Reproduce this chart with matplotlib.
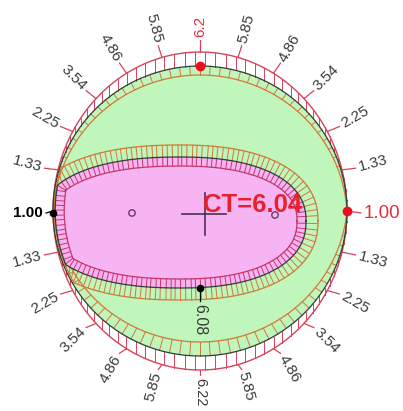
import numpy as np
import matplotlib
matplotlib.use("Agg")
import matplotlib.pyplot as plt
from matplotlib.patches import Polygon, Circle

# ---------------- data ----------------
ring_labels = ["1.00", "1.33", "2.25", "3.54", "4.86", "5.85", "6.2",
               "5.85", "4.86", "3.54", "2.25", "1.33", "1.00",
               "1.33", "2.25", "3.54", "4.86", "5.85", "6.22",
               "5.85", "4.86", "3.54", "2.25", "1.33"]
ct_value = 6.04
inner_value = 6.08

# ---------------- style / geometry ----------------
W, H = 403, 411
CX, CY = 200.0, 211.0
RX, RY_DARK, RY_RED = 147.0, 145.0, 159.0
GREEN = "#c0f5bc"
PINK = "#f6b4f2"
RED = "#d8425a"
ORANGE = "#cf7a3a"
DARK = "#2d4038"
MAG = "#c8356a"
TXT = "#3a3a3a"

plt.rcParams["font.family"] = ["Liberation Sans", "DejaVu Sans"]
fig = plt.figure(figsize=(W / 100, H / 100), dpi=100)
ax = fig.add_axes([0, 0, 1, 1])
ax.set_xlim(0, W)
ax.set_ylim(H, 0)
ax.axis("off")

def ell(th, ry, rx=RX, cy=CY):
    return CX + rx * np.cos(th), cy - ry * np.sin(th)

# ---- outer region ----
th = np.linspace(0, 2 * np.pi, 721)
dx_, dy_ = ell(th, RY_DARK)
ax.fill(dx_, dy_, color=GREEN, zorder=1, lw=0)
rx_, ry_ = ell(th, RY_RED)
ax.plot(rx_, ry_, color=RED, lw=1.0, zorder=3)
ax.plot(dx_, dy_, color=DARK, lw=0.9, zorder=4)

def orange_w(t):
    s = np.sin(t)
    return np.abs(s) * np.where(s > 0, 9.0, 14.0)

ox = dx_ - np.cos(th) * orange_w(th)
oy = dy_ + np.sin(th) * orange_w(th)
ax.plot(ox, oy, color=ORANGE, lw=0.9, zorder=3)

for deg in np.arange(0, 360, 4.0):
    t = np.radians(deg)
    x0, y0 = ell(t, RY_DARK)
    x1, y1 = ell(t, RY_RED)
    ax.plot([x0, x1], [y0, y1], color=RED, lw=0.7, zorder=3)
for deg in np.arange(2, 360, 4.0):
    t = np.radians(deg)
    x0, y0 = ell(t, RY_DARK)
    w = orange_w(t)
    ax.plot([x0, x0 - np.cos(t) * w], [y0, y0 + np.sin(t) * w],
            color=ORANGE, lw=0.7, zorder=3)

# ---- inner shape ----
N = 900
t = np.linspace(0, 2 * np.pi, N, endpoint=False)
c, s = np.cos(t), np.sin(t)
p = 2.3
a = np.where(c >= 0, 126.0, 140.0)
b = np.where(s >= 0, 64.0, 67.0)
icx, icy = 180.0, 221.0
x = icx + a * np.sign(c) * np.abs(c) ** (2 / p)
y = icy - b * np.sign(s) * np.abs(s) ** (2 / p)

def project(x, y, lim=0.985):
    r = np.hypot((x - CX) / RX, (y - CY) / RY_DARK)
    f = np.where(r > lim, lim / r, 1.0)
    return CX + (x - CX) * f, CY + (y - CY) * f

x, y = project(x, y)
tx = np.roll(x, -3) - np.roll(x, 3)
ty = np.roll(y, -3) - np.roll(y, 3)
nx, ny = -ty, tx
k = np.ones(15) / 15
nx = np.convolve(np.concatenate([nx[-7:], nx, nx[:7]]), k, mode="valid")
ny = np.convolve(np.concatenate([ny[-7:], ny, ny[:7]]), k, mode="valid")
nn = np.hypot(nx, ny)
nx, ny = nx / nn, ny / nn

outx, outy = project(x + nx * 12, y + ny * 12, lim=0.99)
inx, iny = x - nx * 9, y - ny * 9

ax.add_patch(Polygon(np.c_[x, y], closed=True, fc=PINK, ec="none", zorder=5))
ax.plot(np.r_[outx, outx[0]], np.r_[outy, outy[0]], color=ORANGE, lw=0.9, zorder=6)
ax.plot(np.r_[inx, inx[0]], np.r_[iny, iny[0]], color=MAG, lw=0.9, zorder=6)
ax.plot(np.r_[x, x[0]], np.r_[y, y[0]], color=DARK, lw=0.9, zorder=7)

seg = np.hypot(np.diff(np.r_[x, x[0]]), np.diff(np.r_[y, y[0]]))
arc = np.r_[0, np.cumsum(seg)[:-1]]
idx = np.where(np.diff(np.floor(arc / 5.0)) > 0)[0]
for i in idx:
    ax.plot([x[i], outx[i]], [y[i], outy[i]], color=ORANGE, lw=0.7, zorder=6)
    ax.plot([inx[i], x[i]], [iny[i], y[i]], color=MAG, lw=0.7, zorder=6)

# ---- ring labels and ticks ----
LCY = 213.0
for i, lab in enumerate(ring_labels):
    deg = 15 * i
    tt = np.radians(deg)
    ux, uy = np.cos(tt), -np.sin(tt)
    x0, y0 = ell(tt, RY_RED)
    if i in (0, 12):
        x0, y0 = ell(tt, RY_DARK)
    lry = 176.0 if np.sin(tt) > 1e-9 else 165.0
    lrx = 157.0 if i == 12 else 164.0
    axx = CX + lrx * np.cos(tt)
    ayy = LCY - lry * np.sin(tt)
    ax.plot([x0, axx - ux * 3], [y0, ayy - uy * 3],
            color=RED if i != 12 else "black", lw=0.9, zorder=8)
    color, size, weight = TXT, 11, "normal"
    if i == 0 or i == 6:
        color = "#e0303c"
    if i == 0:
        size = 13.5
    if i == 12:
        color, size, weight = "black", 11, "bold"
    if i == 18:
        size = 10.5
    if np.cos(tt) >= -1e-9:
        rot, ha = deg if deg <= 90 else deg - 360, "left"
    else:
        rot, ha = deg - 180, "right"
    ax.text(axx, ayy, lab, rotation=rot, rotation_mode="anchor", ha=ha,
            va="center", color=color, fontsize=size, fontweight=weight, zorder=9)

# markers
ax.plot([CX], [ell(np.pi / 2, RY_DARK)[1]], "o", color="#e8101c", ms=6, zorder=10)
ax.plot([ell(0, RY_DARK)[0]], [CY], "o", color="#e8101c", ms=6, zorder=10)
ax.plot([ell(np.pi, RY_DARK)[0]], [CY + 2], "o", color="black", ms=4.5, zorder=10)

# inner value marker
ax.plot([200, 200], [288, 301], color="black", lw=0.9, zorder=10)
ax.plot([200], [288], "o", color="black", ms=4.5, zorder=10)
ax.text(200, 304, f"{inner_value:.2f}", rotation=-90, rotation_mode="anchor",
        ha="left", va="center", color=TXT, fontsize=11.5, zorder=10)

# cross and circles
ax.plot([182, 226], [214, 214], color="#4a3050", lw=1.2, zorder=10)
ax.plot([205, 205], [193, 235], color="#4a3050", lw=1.2, zorder=10)
for px, py in [(132, 213), (275, 215)]:
    ax.add_patch(Circle((px, py), 3.2, fc="none", ec="#6a3a6a", lw=1.0, zorder=10))

ax.text(203, 205, f"CT={ct_value:.2f}", color="#e8202a", fontsize=18.5,
        fontweight="bold", ha="left", va="center", zorder=11)

fig.savefig("out.png", dpi=100)
